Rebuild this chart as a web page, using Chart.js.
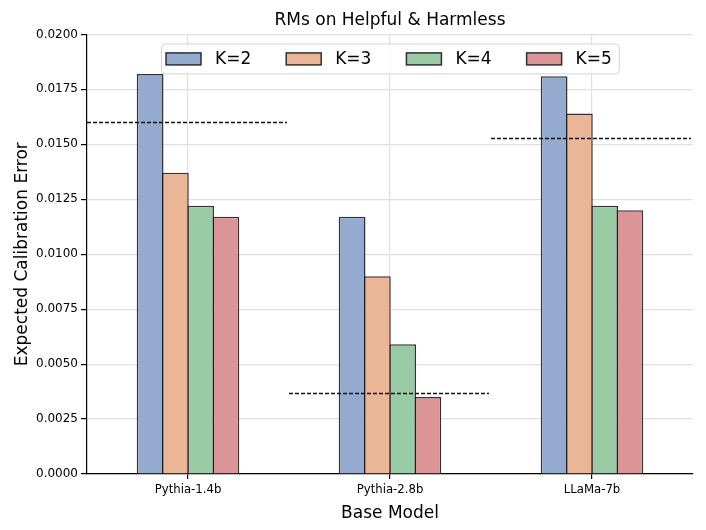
<!DOCTYPE html>
<html>
<head>
<meta charset="utf-8">
<script src="https://cdn.jsdelivr.net/npm/chart.js@4.4.1/dist/chart.umd.min.js"></script>
<style>
  html, body { margin: 0; padding: 0; background: #fff; }
  #wrap { width: 706px; height: 530px; }
</style>
</head>
<body>
<div id="wrap"><canvas id="chart"></canvas></div>
<script>
// values
const models = ['Pythia-1.4b', 'Pythia-2.8b', 'LLaMa-7b'];
const seriesNames = ['K=2', 'K=3', 'K=4', 'K=5'];
const k2 = [0.0182, 0.0117, 0.0181];
const k3 = [0.0137, 0.0090, 0.0164];
const k4 = [0.0122, 0.0059, 0.0122];
const k5 = [0.0117, 0.0035, 0.0120];
const baseline = [0.0160, 0.0037, 0.0153];   // dashed reference line per model
const yTicks = [0, 0.0025, 0.005, 0.0075, 0.01, 0.0125, 0.015, 0.0175, 0.02];

const fills = ['#94aacf', '#ebb597', '#99cba4', '#dc9597'];
const edge = 'rgba(30,30,30,0.9)';

const barSets = [k2, k3, k4, k5].map((vals, i) => ({
  label: seriesNames[i],
  data: vals,
  backgroundColor: fills[i],
  borderColor: edge,
  borderWidth: 1.5,
  barPercentage: 1.06,   // slight overlap so neighbours share one edge
  categoryPercentage: 0.5
}));

// dashed line across each model's band, placed with the chart's scales
const baselines = {
  id: 'baselines',
  afterDatasetsDraw(chart) {
    const xs = chart.scales.x, ys = chart.scales.y;
    const band = xs.width / models.length;
    const ctx = chart.ctx;
    ctx.save();
    ctx.strokeStyle = '#111';
    ctx.lineWidth = 1.3;
    ctx.setLineDash([4, 2]);
    baseline.forEach((v, i) => {
      const cx = xs.getPixelForValue(i);
      const y = Math.round(ys.getPixelForValue(v)) + 0.5;
      ctx.beginPath();
      ctx.moveTo(cx - band / 2, y);
      ctx.lineTo(cx + band / 2 - 2, y);
      ctx.stroke();
    });
    ctx.restore();
  }
};

// matplotlib-style legend inside the plot, with a rounded frame
const innerLegend = {
  id: 'innerLegend',
  afterDraw(chart) {
    const ctx = chart.ctx;
    const area = chart.chartArea;
    const boxW = 35, boxH = 12, gap = 14, spacing = 35;
    ctx.save();
    ctx.font = '17px "DejaVu Sans"';
    const widths = seriesNames.map(s => ctx.measureText(s).width);
    let total = 0;
    widths.forEach((w, i) => { total += boxW + gap + w + (i < widths.length - 1 ? spacing : 0); });
    const padL = 5, padR = 7;
    const cxm = (area.left + area.right) / 2;
    const x0 = Math.round(cxm - (total + padL + padR) / 2);
    const y0 = area.top + 9, h = 30;
    ctx.fillStyle = 'rgba(255,255,255,0.8)';
    ctx.strokeStyle = '#d4d4d4';
    ctx.lineWidth = 1;
    ctx.beginPath();
    ctx.roundRect(x0 + 0.5, y0 + 0.5, total + padL + padR, h, 4);
    ctx.fill();
    ctx.stroke();
    let x = x0 + padL;
    const cy = y0 + h / 2 + 0.5;
    ctx.textBaseline = 'middle';
    seriesNames.forEach((s, i) => {
      ctx.fillStyle = fills[i];
      ctx.fillRect(x, cy - boxH / 2, boxW, boxH);
      ctx.strokeStyle = edge;
      ctx.lineWidth = 1.5;
      ctx.strokeRect(x, cy - boxH / 2, boxW, boxH);
      ctx.fillStyle = '#000';
      ctx.fillText(s, x + boxW + gap, cy + 1);
      x += boxW + gap + widths[i] + spacing;
    });
    ctx.restore();
  }
};

new Chart(document.getElementById('chart'), {
  type: 'bar',
  data: {
    labels: models,
    datasets: barSets
  },
  options: {
    responsive: true,
    maintainAspectRatio: false,
    animation: false,
    layout: { padding: { left: 0, right: 13, top: 0, bottom: 0 } },
    plugins: {
      title: {
        display: true,
        fullSize: false,
        text: 'RMs on Helpful & Harmless',
        color: '#000',
        font: { family: 'DejaVu Sans', size: 17, weight: 'normal' },
        padding: { top: 10, bottom: 4 }
      },
      legend: { display: false },
      tooltip: { enabled: false }
    },
    scales: {
      x: {
        offset: true,
        border: { color: '#000', width: 1.2 },
        grid: { offset: false, color: '#e0e0e0', lineWidth: 1.2, tickColor: '#000', tickLength: 5 },
        ticks: { color: '#000', font: { family: 'DejaVu Sans Condensed, DejaVu Sans', size: 13 }, padding: 3 },
        title: {
          display: true,
          text: 'Base Model',
          color: '#000',
          font: { family: 'DejaVu Sans', size: 17 },
          padding: { top: 2, bottom: 6 }
        },
        afterFit(scale) { scale.height = 56; }
      },
      y: {
        min: 0,
        max: 0.02,
        border: { color: '#000', width: 1.2 },
        grid: { color: '#e0e0e0', lineWidth: 1.2, tickColor: '#000', tickLength: 6 },
        afterBuildTicks(scale) { scale.ticks = yTicks.map(v => ({ value: v })); },
        ticks: {
          color: '#000',
          font: { family: 'DejaVu Sans', size: 12 },
          padding: 3,
          callback: v => Number(v).toFixed(4)
        },
        title: {
          display: true,
          text: 'Expected Calibration Error',
          color: '#000',
          font: { family: 'DejaVu Sans', size: 17 },
          padding: { top: 12, bottom: 2 }
        },
        afterFit(scale) { scale.width = 87; }
      }
    }
  },
  plugins: [baselines, innerLegend]
});
</script>
</body>
</html>
